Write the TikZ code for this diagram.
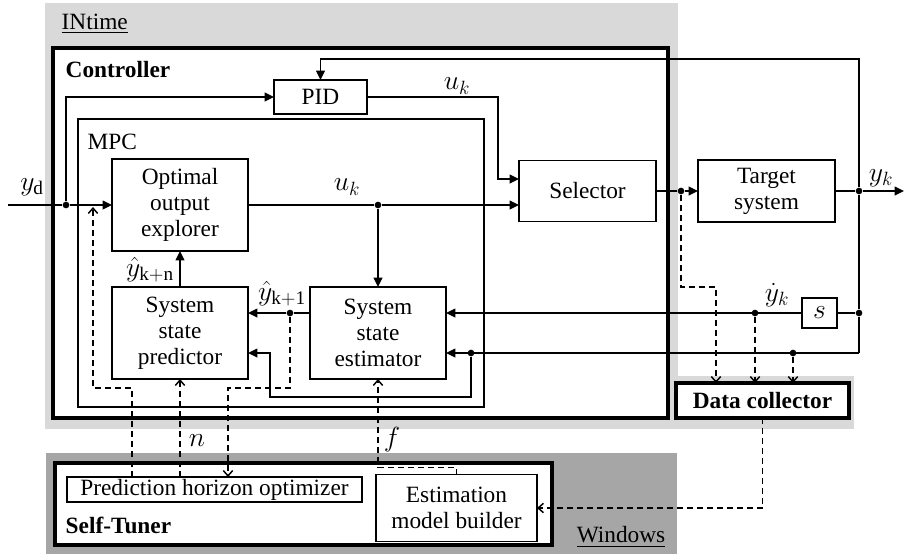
\documentclass[tikz,border=0pt]{standalone}
\usepackage{fontspec}
\setmainfont{Liberation Serif}
\usepackage{amsmath}
\usetikzlibrary{arrows.meta}

\definecolor{intimegray}{RGB}{217,217,217}
\definecolor{wingray}{RGB}{166,166,166}
\newcommand{\figfont}{\fontsize{17.5}{19.5}\selectfont}
\newcommand{\sigfont}{\fontsize{20.74}{22}\selectfont}

\tikzset{
  blk/.style={draw, line width=1.1pt, fill=white, align=center, inner sep=0pt, outer sep=0pt},
  wh/.style 2 args={minimum width=#1*0.75pt, minimum height=#2*0.75pt},
  wire/.style={line width=1.1pt},
  conn/.style={line width=1.1pt, -{Triangle[length=7pt,width=6.5pt]}},
  dconn/.style={line width=1.1pt, dash pattern=on 4.5pt off 3pt, -{Straight Barb[length=4pt,width=7pt]}},
  jn/.style={circle, fill, inner sep=0pt, minimum size=5pt},
  frame/.style={line width=3pt, fill=white},
  sig/.style={font=\sigfont, inner sep=0pt},
}

\begin{document}
\begin{tikzpicture}[x=0.75pt, y=-0.75pt, font=\figfont]
    \useasboundingbox (0,0) rectangle (904,554);
    % platforms
    \fill[intimegray] (45,3) rectangle (678,429);
    \fill[intimegray] (675,376) rectangle (854,429);
    \fill[wingray] (46,453) rectangle (677,554);
    \node[anchor=west] (intime) at (57,24) {\underline{INtime}};
    \node[anchor=east] (windows) at (670,537) {\underline{Windows}};

    % controller with MPC inside, self-tuner below
    \draw[frame] (53,48) rectangle (668,418);
    \node[anchor=west, font=\figfont\bfseries] (ctrl) at (61,70) {Controller};
    \draw[wire] (78,119) rectangle (484,407);
    \node[anchor=west] (mpc) at (83,142) {MPC};
    \draw[frame] (55,463) rectangle (552,545);
    \node[anchor=west, font=\figfont\bfseries] (tuner) at (61,525) {Self-Tuner};

    % blocks
    \node[blk, wh={93}{34}] (pid) at (320.5,97) {PID};
    \node[blk, wh={136}{92}] (opt) at (180,205) {Optimal\\output\\explorer};
    \node[blk, wh={137}{61}] (sel) at (587.5,191) {Selector};
    \node[blk, wh={137}{62}] (tgt) at (766.5,191) {Target\\system};
    \node[blk, wh={136}{92}] (pred) at (180,333) {System\\state\\predictor};
    \node[blk, wh={136}{92}] (est) at (378,333) {System\\state\\estimator};
    \node[blk, wh={35}{30}, font=\sigfont] (sblk) at (819.5,313) {$s$};
    \node[blk, line width=2.6pt, font=\figfont\bfseries, wh={173}{35}] (dc) at (762.5,400.5) {Data collector};
    \node[blk, wh={295}{25}] (pho) at (214.5,489.5) {Prediction horizon optimizer};
    \node[blk, wh={161}{67}] (emb) at (456.5,508) {Estimation\\model builder};

    % junctions
    \node[jn] (jyd) at (66,205) {};
    \node[jn] (juk) at (378,205) {};
    \node[jn] (jsel) at (681,191) {};
    \node[jn] (jyk) at (859,191) {};
    \node[jn] (jyk2) at (859,313) {};
    \node[jn] (jdy) at (755,313) {};
    \node[jn] (jrail) at (793,353) {};
    \node[jn] (jest) at (471,353) {};
    \node[jn] (jk1) at (290,313) {};

    \coordinate (yin) at (8,205);
    \coordinate (yout) at (904,191);
    \coordinate (pidbend) at (498,179);
    \coordinate (fbtop) at (320.5,59);
    \coordinate (railend) at (859,353);
    \coordinate (loopbot) at (270,397);

    % signal paths
    \draw[wire] (yin) -- (jyd);
    \draw[conn] (jyd) -- (opt.west);
    \draw[conn] (jyd) |- (pid.west);
    \draw[wire] (opt.east) -- (juk);
    \draw[conn] (juk) -- (sel.west |- juk);
    \draw[conn] (juk) -- (est.north);
    \draw[conn] (pid.east) -| (pidbend) -- (sel.west |- pidbend);
    \draw[wire] (sel.east) -- (jsel);
    \draw[conn] (jsel) -- (tgt.west);
    \draw[wire] (tgt.east) -- (jyk);
    \draw[conn] (jyk) -- (yout);
    \draw[conn] (jyk) |- (fbtop) -- (pid.north);
    \draw[wire] (jyk) -- (jyk2) -- (railend);
    \draw[wire] (jyk2) -- (sblk.east);
    \draw[conn] (sblk.west) -- (est.east |- sblk.west);
    \draw[conn] (railend) -- (est.east |- railend);
    \draw[conn] (jest) |- (loopbot) |- (pred.east |- jest);
    \draw[wire] (est.west |- jk1) -- (jk1);
    \draw[conn] (jk1) -- (pred.east |- jk1);
    \draw[conn] (pred.north) -- (opt.south);

    % tuning and logging paths
    \coordinate (dk1) at (228,388);
    \coordinate (dphl) at (132,388);
    \coordinate (dyd) at (93,388);
    \coordinate (dydtop) at (93,207);
    \coordinate (dsel) at (716,287);
    \draw[dconn] (jk1) |- (dk1) -- (pho.north -| dk1);
    \draw[dconn] (pho.north -| pred.south) -- (pred.south);
    \draw[dconn] (pho.north -| dphl) -- (dphl) -- (dyd) -- (dydtop);
    \draw[dconn] (emb.north) -- ++(0,-7) -| (est.south);
    \draw[dconn] (jsel) |- (dsel) -- (dc.north -| dsel);
    \draw[dconn] (jdy) -- (dc.north -| jdy);
    \draw[dconn] (jrail) -- (dc.north -| jrail);
    \draw[dconn] (dc.south) |- (emb.east);

    % signal names
    \node[sig] (lyd) at (32,187) {$y_{\mathrm{d}}$};
    \node[sig] (luk1) at (457,86) {$u_k$};
    \node[sig] (luk2) at (347,187) {$u_k$};
    \node[sig] (lyk) at (881,178) {$y_k$};
    \node[sig] (lykn) at (150,270) {$\hat{y}_{\mathrm{k+n}}$};
    \node[sig] (lyk1) at (282,294) {$\hat{y}_{\mathrm{k+1}}$};
    \node[sig] (ldy) at (777,295) {$\dot{y}_k$};
    \node[sig] (ln) at (197,441) {$n$};
    \node[sig] (lf) at (392,440) {$f$};
\end{tikzpicture}
\end{document}
